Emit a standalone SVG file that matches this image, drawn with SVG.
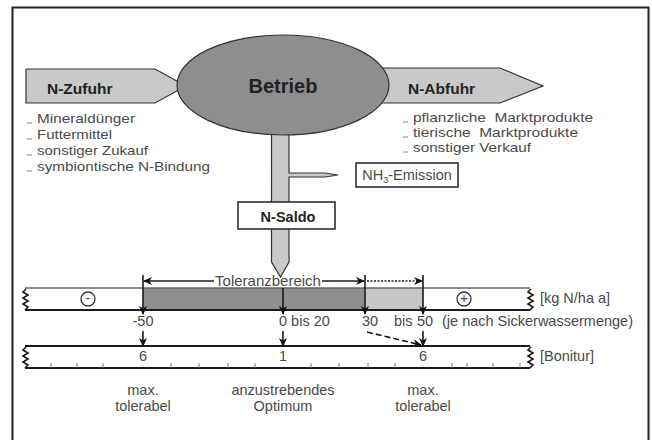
<svg xmlns="http://www.w3.org/2000/svg" width="652" height="440" viewBox="0 0 652 440">
<style>
.lbl{font-family:"Liberation Sans",Arial,sans-serif;font-size:15px;fill:#4a4a4a}
.li{font-family:"Liberation Sans",Arial,sans-serif;font-size:13.5px;fill:#4a4a4a}
.sm{font-family:"Liberation Sans",Arial,sans-serif;font-size:14.5px;fill:#4a4a4a}
.bold{font-family:"Liberation Sans",Arial,sans-serif;font-weight:bold;fill:#222}
.ln{stroke:#1a1a1a;stroke-width:1.6;fill:none}
.zz{stroke:#1a1a1a;stroke-width:1.6;fill:none;stroke-linejoin:miter}
.blt{stroke:#9a9a9a;stroke-width:1.2}
.shape{stroke:#333;stroke-width:1.2}
</style>
<defs>
<marker id="ah" viewBox="0 0 10 10" refX="9" refY="5" markerWidth="9" markerHeight="9" orient="auto" markerUnits="userSpaceOnUse">
<path d="M0,0.5 L10,5 L0,9.5 L3,5 z" fill="#111"/>
</marker>
</defs>
<rect x="0" y="0" width="652" height="440" fill="#fff"/>
<rect x="12.5" y="7.5" width="636" height="450" fill="none" stroke="#222" stroke-width="2"/>

<g id="n-zufuhr">
<polygon class="shape" points="26,69 155,69 186,86 155,103 26,103" fill="#c9c9c9"/>
<text class="bold" x="47" y="94" font-size="15.5">N-Zufuhr</text>
</g>
<g id="n-abfuhr">
<polygon class="shape" points="370,68 500,68 543,86 500,103 370,103" fill="#c9c9c9"/>
<text class="bold" x="408" y="94" font-size="15.5">N-Abfuhr</text>
</g>
<g id="stem">
<polygon class="shape" points="271.5,120 289,120 289,173 325,173 338,175 325,177 289,177 289,262 280.5,277 271.5,262" fill="#c9c9c9"/>
</g>
<g id="betrieb">
<ellipse cx="283" cy="85" rx="106" ry="50" fill="#8e8e8e" stroke="#333" stroke-width="1.2"/>
<text class="bold" x="283" y="93" font-size="20" text-anchor="middle" fill="#2a2a2a">Betrieb</text>
</g>

<g id="zufuhr-list">
<line class="blt" x1="27" y1="123" x2="32" y2="123"/>
<line class="blt" x1="27" y1="139" x2="32" y2="139"/>
<line class="blt" x1="27" y1="155" x2="32" y2="155"/>
<line class="blt" x1="27" y1="171" x2="32" y2="171"/>
<text class="li" x="37" y="123" textLength="98" lengthAdjust="spacingAndGlyphs">Mineraldünger</text>
<text class="li" x="37" y="139" textLength="75" lengthAdjust="spacingAndGlyphs">Futtermittel</text>
<text class="li" x="37" y="155" textLength="111" lengthAdjust="spacingAndGlyphs">sonstiger Zukauf</text>
<text class="li" x="37" y="171" textLength="173" lengthAdjust="spacingAndGlyphs">symbiontische N-Bindung</text>
</g>
<g id="abfuhr-list">
<line class="blt" x1="403" y1="122" x2="408" y2="122"/>
<line class="blt" x1="403" y1="137" x2="408" y2="137"/>
<line class="blt" x1="403" y1="152" x2="408" y2="152"/>
<text class="li" x="413" y="122" textLength="180" lengthAdjust="spacingAndGlyphs" xml:space="preserve">pflanzliche  Marktprodukte</text>
<text class="li" x="413" y="137" textLength="165" lengthAdjust="spacingAndGlyphs" xml:space="preserve">tierische  Marktprodukte</text>
<text class="li" x="413" y="152" textLength="118" lengthAdjust="spacingAndGlyphs">sonstiger Verkauf</text>
</g>

<g id="nh3">
<rect x="356" y="163" width="102" height="24" fill="#fff" stroke="#222" stroke-width="1.5"/>
<text class="sm" x="407" y="180" text-anchor="middle" font-size="13.5">NH<tspan font-size="9" dy="3">3</tspan><tspan dy="-3">-Emission</tspan></text>
</g>
<g id="n-saldo">
<rect x="238" y="202" width="97" height="27" fill="#fff" stroke="#222" stroke-width="1.5"/>
<text class="bold" x="288" y="222" font-size="14.5" text-anchor="middle">N-Saldo</text>
</g>

<g id="scale-kg">
<rect x="143" y="288" width="222" height="22" fill="#8e8e8e"/>
<rect x="365" y="288" width="58" height="22" fill="#c6c6c6"/>
<line x1="25" y1="288" x2="530" y2="288" stroke="#666" stroke-width="1.4"/>
<line x1="25" y1="310" x2="530" y2="310" stroke="#1a1a1a" stroke-width="1.8"/>
<polyline class="zz" points="26,289 23,292 28,295 23,298 28,301 23,304 28,307 25,310"/>
<polyline class="zz" points="531,289 528,292 533,295 528,298 533,301 528,304 533,307 530,310"/>
<circle cx="88" cy="299" r="7" fill="#fff" stroke="#333" stroke-width="1.3"/>
<text class="sm" x="88" y="303" font-size="10" text-anchor="middle">-</text>
<circle cx="464" cy="299" r="7" fill="#fff" stroke="#333" stroke-width="1.3"/>
<text class="sm" x="464" y="303" font-size="10" text-anchor="middle">+</text>
<text class="sm" x="540" y="303">[kg N/ha a]</text>
</g>

<g id="scale-bonitur">
<line x1="25" y1="346" x2="530" y2="346" stroke="#1a1a1a" stroke-width="1.8"/>
<line x1="25" y1="368" x2="530" y2="368" stroke="#1a1a1a" stroke-width="1.8"/>
<polyline class="zz" points="26,347 23,350 28,353 23,356 28,359 23,362 28,365 25,368"/>
<polyline class="zz" points="531,347 528,350 533,353 528,356 533,359 528,362 533,365 530,368"/>
<path stroke="#777" stroke-width="1" d="M51,363V368M77,363V368M103,363V368M171,363V368M199,363V368M228,363V368M255,363V368M311,363V368M339,363V368M368,363V368M395,363V368M452,363V368M467,363V368M493,363V368M520,363V368"/>
<text class="sm" x="143" y="361" text-anchor="middle">6</text>
<text class="sm" x="283" y="361" text-anchor="middle">1</text>
<text class="sm" x="423" y="361" text-anchor="middle">6</text>
<text class="sm" x="540" y="361">[Bonitur]</text>
</g>

<g id="connectors">
<path class="ln" d="M214,281 L144,281" marker-end="url(#ah)"/>
<path class="ln" d="M322,281 L364,281" marker-end="url(#ah)"/>
<path class="ln" d="M367,281 L422,281" stroke-dasharray="2,1.5" marker-end="url(#ah)"/>
<path class="ln" d="M143,275 L143,314" marker-end="url(#ah)"/>
<path class="ln" d="M283,288 L283,314" marker-end="url(#ah)"/>
<path class="ln" d="M365,275 L365,314" marker-end="url(#ah)"/>
<path class="ln" d="M423,275 L423,314" marker-end="url(#ah)"/>
<path class="ln" d="M143,331 L143,346" marker-end="url(#ah)"/>
<path class="ln" d="M283,331 L283,346" marker-end="url(#ah)"/>
<path class="ln" d="M423,331 L423,346" marker-end="url(#ah)"/>
<path class="ln" d="M367,332 L421,345" stroke-dasharray="6,3" marker-end="url(#ah)"/>
</g>

<g id="labels">
<text class="lbl" x="268" y="286" text-anchor="middle">Toleranzbereich</text>
<text class="sm" x="143" y="326" text-anchor="middle">-50</text>
<text class="sm" x="279" y="326">0 bis 20</text>
<text class="sm" x="362" y="326">30</text>
<text class="sm" x="394" y="326">bis</text>
<text class="sm" x="417" y="326">50</text>
<text class="sm" x="442" y="326">(je nach Sickerwassermenge)</text>
<text class="sm" x="143" y="395" text-anchor="middle">max.</text>
<text class="sm" x="143" y="411" text-anchor="middle">tolerabel</text>
<text class="sm" x="283" y="395" text-anchor="middle">anzustrebendes</text>
<text class="sm" x="283" y="411" text-anchor="middle">Optimum</text>
<text class="sm" x="423" y="395" text-anchor="middle">max.</text>
<text class="sm" x="423" y="411" text-anchor="middle">tolerabel</text>
</g>
</svg>
